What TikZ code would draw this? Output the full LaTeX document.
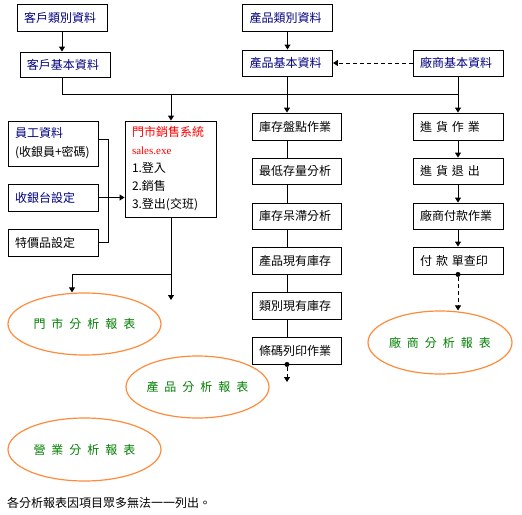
\documentclass[tikz,border=0pt]{standalone}
\usepackage{fontspec}
\setmainfont{Noto Sans CJK TC}
\newfontfamily\serf{Liberation Serif}
\usetikzlibrary{arrows.meta,shapes.geometric}
\definecolor{navy}{RGB}{0,0,128}
\definecolor{redT}{RGB}{255,0,0}
\definecolor{greenT}{RGB}{0,128,0}
\definecolor{orangeE}{RGB}{255,140,60}
\newcommand\myspacedsix{\fontsize{12}{14}\selectfont\spaceskip 6pt\relax}
\newcommand\myzw[1]{\makebox[0pt][c]{#1}}
\begin{document}
\begin{tikzpicture}[x=1pt,y=-1pt,
  box/.style={draw, line width=0.9pt, inner xsep=7pt, inner ysep=0pt, minimum height=27pt, text width=#1, align=left, font=\fontsize{12}{14}\selectfont},
  box/.default=76pt,
  spaced/.style={font=\myspacedsix},
  ell/.style={draw=orangeE, line width=1.2pt, ellipse, inner sep=0pt, font=\myspacedsix, text=greenT},
  conn/.style={line width=0.9pt},
  arr/.style={conn, -{Triangle[length=5pt,width=6pt]}},
  dsh/.style={arr, dash pattern=on 4pt off 3pt},
  dotn/.style={circle, fill, inner sep=0pt, minimum size=5pt}]
\useasboundingbox[fill=white] (0,0) rectangle (522,514);

% helper coordinates
\coordinate (xk) at (62,0);
\coordinate (xp) at (287,0);
\coordinate (xm) at (171,0);
\coordinate (xr) at (458,0);
\coordinate (bx) at (108,0);
\coordinate (x72) at (72,0);
\coordinate (busy) at (0,94);

% top
\node[box, text=navy] (kc) at (62,17.5) {客戶類別資料};
\node[box, text=navy, minimum height=25pt] (kb) at (65,64.5) {客戶基本資料};
\node[box, text=navy] (pc) at (287.5,17.5) {產品類別資料};
\node[box, text=navy, minimum height=26pt] (pb) at (287.5,63) {產品基本資料};
\node[box, text=navy, minimum height=26pt] (vb) at (458,63) {廠商基本資料};

% left column
\node[box, minimum height=45pt, font=\fontsize{12}{19}\selectfont] (emp) at (53,143.5) {{\color{navy}員工資料}\\(收銀員+密碼)};
\node[box, text=navy] (reg) at (53,197.5) {收銀台設定};
\node[box] (spc) at (53,242.5) {特價品設定};
\node[box=77pt, minimum height=96pt, font=\fontsize{12}{18}\selectfont] (pos) at (170.5,169)
  {{\color{redT}門市銷售系統}\\{\color{redT}\serf\fontsize{11}{18}\selectfont sales.exe}\\1.登入\\2.銷售\\3.登出(交班)};

% middle column
\node[box=75pt] (m1) at (296.5,126.5) {庫存盤點作業};
\node[box=75pt, minimum height=26pt] (m2) at (296.5,171) {最低存量分析};
\node[box=75pt, minimum height=26pt] (m3) at (296.5,216) {庫存呆滯分析};
\node[box=75pt] (m4) at (296.5,260.5) {產品現有庫存};
\node[box=75pt] (m5) at (296.5,305.5) {類別現有庫存};
\node[box=75pt] (m6) at (296.5,350.5) {條碼列印作業};

% right column
\node[box, spaced] (r1) at (458,126.5) {進 貨 作 業};
\node[box, spaced, minimum height=26pt] (r2) at (458,171) {進 貨 退 出};
\node[box, minimum height=26pt] (r3) at (458,216) {廠商付款作業};
\node[box, spaced] (r4) at (458,260.5) {付 款 單查印};

% ellipses
\node[ell, minimum width=153pt, minimum height=62pt] (e1) at (84.5,324) {\myzw{門 市 分 析 報 表}};
\node[ell, minimum width=143pt, minimum height=62pt] (e2) at (197.5,387) {\myzw{產 品 分 析 報 表}};
\node[ell, minimum width=153pt, minimum height=63pt] (e3) at (84.5,449.5) {\myzw{營 業 分 析 報 表}};
\node[ell, minimum width=144pt, minimum height=63pt] (e4) at (440,342.5) {\myzw{廠 商 分 析 報 表}};

% note
\node[anchor=west, inner sep=0pt, font=\fontsize{12}{14}\selectfont] (note) at (7,503) {各分析報表因項目眾多無法一一列出。};

% top connectors
\draw[arr] (kc.south -| xk) -- (kb.north -| xk);
\draw[arr] (pc.south) -- (pb.north);
\draw[dsh] (vb.west) -- (pb.east);
\draw[conn] (kb.south -| xk) -- (busy -| xk) -- (busy -| xr);
\draw[arr] (vb.south) -- (r1.north);
\draw[arr] (pb.south -| xp) -- (m1.north -| xp);
\draw[arr] (busy -| xm) -- (pos.north -| xm);

% middle column lines
\draw[conn] (m1.south -| xp) -- (m2.north -| xp);
\draw[conn] (m2.south -| xp) -- (m3.north -| xp);
\draw[conn] (m3.south -| xp) -- (m4.north -| xp);
\draw[conn] (m4.south -| xp) -- (m5.north -| xp);
\draw[conn] (m5.south -| xp) -- (m6.north -| xp);
\node[dotn] (d1) at (m6.south -| xp) {};
\coordinate (m6end) at (287,382);
\draw[dsh] (d1) -- (m6end);

% right column arrows
\draw[arr] (r1.south) -- (r2.north);
\draw[arr] (r2.south) -- (r3.north);
\draw[arr] (r3.south) -- (r4.north);
\node[dotn] (d2) at (r4.south) {};
\draw[dsh] (d2) -- (d2 |- e4.north);

% bracket
\draw[conn] (emp.east) ++(0,-4.5) coordinate (ee) -- (ee -| bx) -- (spc.east -| bx) -- (spc.east);
\draw[conn] (reg.east) -- (reg.east -| bx);
\draw[arr] (reg.east -| bx) -- (pos.west |- reg.east);

% pos outputs
\coordinate (brk) at (171,274);
\coordinate (pend) at (171,300);
\draw[conn] (pos.south -| xm) -- (brk);
\draw[arr] (brk) -- (pend);
\draw[arr] (brk) -| (e1.north -| x72);
\end{tikzpicture}
\end{document}
